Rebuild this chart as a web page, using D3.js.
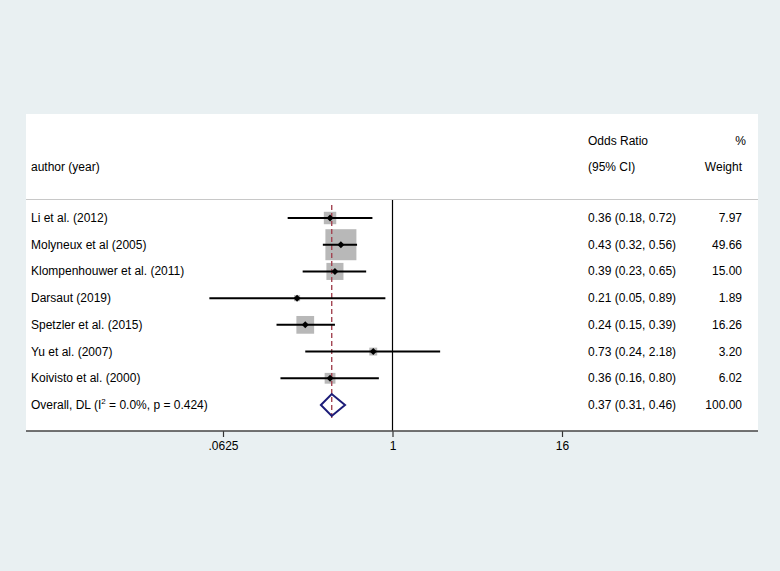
<!DOCTYPE html>
<html><head><meta charset="utf-8">
<script src="https://cdn.jsdelivr.net/npm/d3@7/dist/d3.min.js"></script>
<style>html,body{margin:0;padding:0;background:#e9f0f2;}svg{display:block;font-family:"Liberation Sans",Arial,sans-serif;}</style>
</head><body><svg id="c" width="780" height="571"></svg>
<script>
const studies = ["Li et al. (2012)","Molyneux et al (2005)","Klompenhouwer et al. (2011)","Darsaut (2019)","Spetzler et al. (2015)","Yu et al. (2007)","Koivisto et al. (2000)"];
const orValues = [0.36,0.43,0.39,0.21,0.24,0.73,0.36];
const ciLow = [0.18,0.32,0.23,0.05,0.15,0.24,0.16];
const ciHigh = [0.72,0.56,0.65,0.89,0.39,2.18,0.80];
const weights = [7.97,49.66,15.00,1.89,16.26,3.20,6.02];
const overall = {or:0.37, lo:0.31, hi:0.46, weight:100.00};
const tickValues = [0.0625,1,16];
const tickLabels = [".0625","1","16"];

const svg = d3.select("#c");
const fs = 12;
// white panel
svg.append("rect").attr("x",26).attr("y",114).attr("width",732).attr("height",317).attr("fill","#fff");

const x = d3.scaleLog().base(2).domain([0.0625,16]).range([223,562]);
const rowY = d3.scalePoint().domain(d3.range(studies.length+1)).range([218,405]);

// header
svg.append("text").attr("x",31).attr("y",171).attr("font-size",fs).text("author (year)");
svg.append("text").attr("x",588).attr("y",145).attr("font-size",fs).text("Odds Ratio");
svg.append("text").attr("x",588).attr("y",171).attr("font-size",fs).text("(95% CI)");
svg.append("text").attr("x",746).attr("y",145).attr("font-size",fs).attr("text-anchor","end").text("%");
svg.append("text").attr("x",742).attr("y",171).attr("font-size",fs).attr("text-anchor","end").text("Weight");
svg.append("line").attr("x1",26).attr("x2",758).attr("y1",199.5).attr("y2",199.5).attr("stroke","#c8c8c8").attr("stroke-width",1.2);

// null line
svg.append("line").attr("x1",x(1)).attr("x2",x(1)).attr("y1",200).attr("y2",431).attr("stroke","#000").attr("stroke-width",1.2);

// boxes
const k = 4.4;
const g = svg.append("g");
studies.forEach((s,i)=>{
  const y = rowY(i), side = k*Math.sqrt(weights[i]);
  g.append("rect").attr("x",x(orValues[i])-side/2).attr("y",y-side/2).attr("width",side).attr("height",side).attr("fill","#b8b8b8");
});
// overall dashed line
svg.append("line").attr("x1",x(overall.or)).attr("x2",x(overall.or)).attr("y1",205).attr("y2",418)
  .attr("stroke","#a34552").attr("stroke-width",1.4).attr("stroke-dasharray","5,3");
studies.forEach((s,i)=>{
  const y = rowY(i);
  svg.append("line").attr("x1",x(ciLow[i])).attr("x2",x(ciHigh[i])).attr("y1",y).attr("y2",y).attr("stroke","#000").attr("stroke-width",2);
  const cx = x(orValues[i]);
  svg.append("path").attr("d",`M${cx-3.5},${y}L${cx},${y-3.5}L${cx+3.5},${y}L${cx},${y+3.5}Z`).attr("fill","#000");
  svg.append("text").attr("x",31).attr("y",y+4).attr("font-size",fs).text(s);
  svg.append("text").attr("x",588).attr("y",y+4).attr("font-size",fs).text(`${orValues[i].toFixed(2)} (${ciLow[i].toFixed(2)}, ${ciHigh[i].toFixed(2)})`);
  svg.append("text").attr("x",742).attr("y",y+4).attr("font-size",fs).attr("text-anchor","end").text(weights[i].toFixed(2));
});
// overall row
const oy = rowY(studies.length);
svg.append("path").attr("d",`M${x(overall.lo)},${oy}L${x(overall.or)},${oy-11}L${x(overall.hi)},${oy}L${x(overall.or)},${oy+11}Z`)
  .attr("fill","none").attr("stroke","#1c1c78").attr("stroke-width",2);
const ot = svg.append("text").attr("x",31).attr("y",oy+4).attr("font-size",fs);
ot.append("tspan").text("Overall, DL (I");
ot.append("tspan").attr("font-size",8).attr("dy",-5).text("2");
ot.append("tspan").attr("dy",5).text(" = 0.0%, p = 0.424)");
svg.append("text").attr("x",588).attr("y",oy+4).attr("font-size",fs).text(`${overall.or.toFixed(2)} (${overall.lo.toFixed(2)}, ${overall.hi.toFixed(2)})`);
svg.append("text").attr("x",742).attr("y",oy+4).attr("font-size",fs).attr("text-anchor","end").text(overall.weight.toFixed(2));

// axis
const axis = d3.axisBottom(x).tickValues(tickValues).tickFormat((d,i)=>tickLabels[i]).tickSize(6).tickSizeOuter(0);
const ag = svg.append("g").attr("transform","translate(0,431)").call(axis);
ag.select(".domain").remove();
ag.selectAll(".tick line").attr("stroke","#333").attr("stroke-width",1.2);
ag.selectAll(".tick text").attr("font-size",fs).attr("font-family","Liberation Sans, Arial, sans-serif").attr("fill","#000").attr("dy","0.8em");
svg.append("line").attr("x1",26).attr("x2",758).attr("y1",431).attr("y2",431).attr("stroke","#444").attr("stroke-width",1.6);
</script></body></html>
